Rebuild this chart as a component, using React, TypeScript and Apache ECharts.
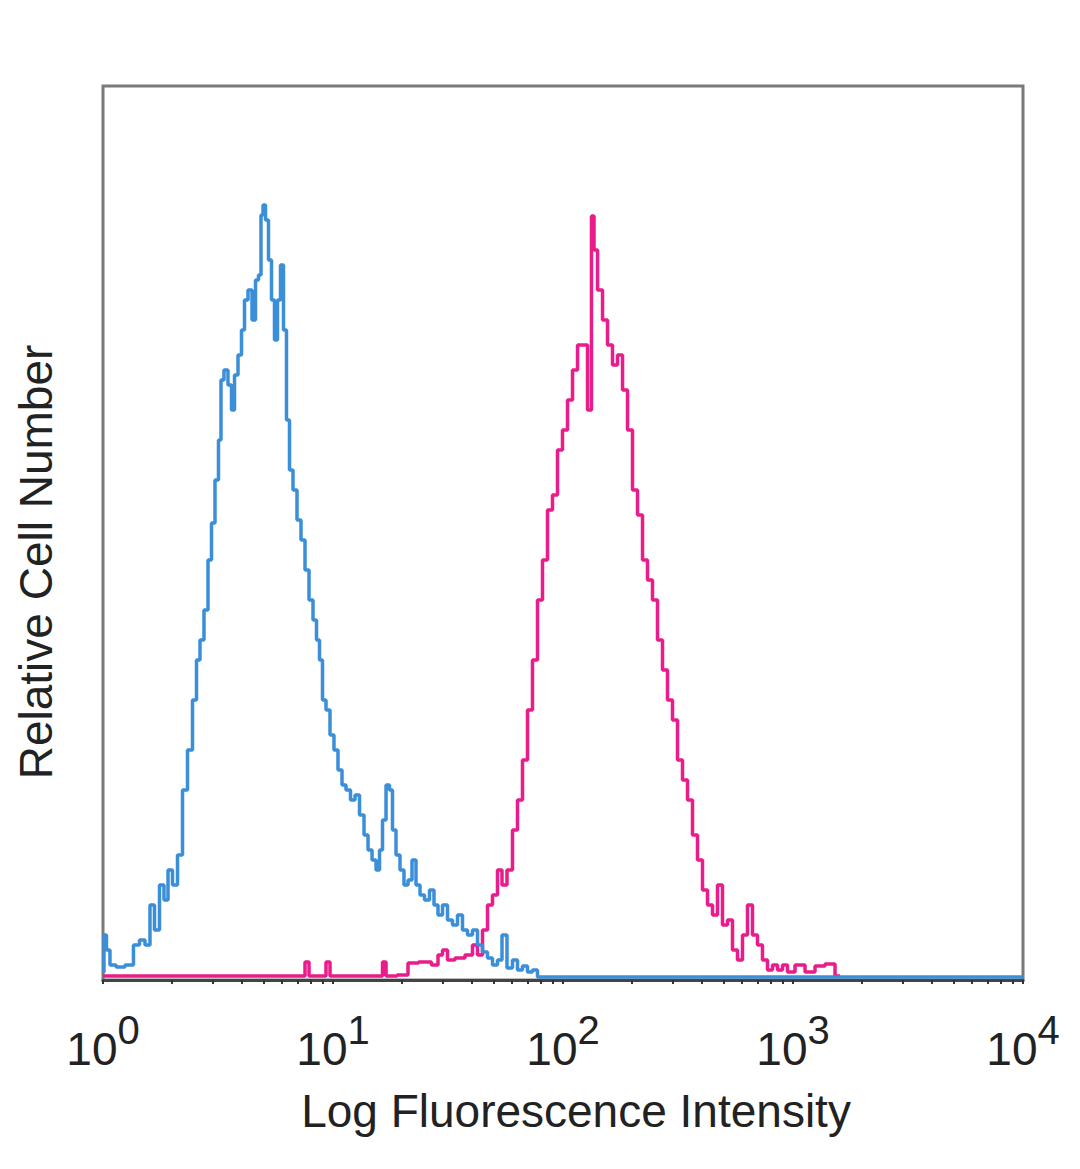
import React, { useEffect, useRef } from "react";
import * as echarts from "echarts";

// Fluorescence intensity (x) vs relative cell count (y)
const isotypeHistogram: [number, number][] = [
  [1, 4], [1.02, 22.5], [1.051, 15], [1.094, 7.5], [1.186, 6.5], [1.31, 7.5], [1.405, 17.5],
  [1.478, 20], [1.569, 17.5], [1.633, 37.5], [1.717, 25], [1.805, 47.5], [1.879, 40],
  [1.956, 55], [2.056, 47.5], [2.162, 62.5], [2.273, 95], [2.389, 115], [2.512, 140],
  [2.588, 160], [2.694, 170], [2.804, 185], [2.919, 210], [3.008, 228.5], [3.13, 250],
  [3.226, 270], [3.291, 300], [3.425, 305], [3.565, 297.5], [3.675, 285], [3.787, 302.5],
  [3.941, 312.5], [4.062, 325], [4.185, 340], [4.357, 345], [4.535, 330], [4.673, 350],
  [4.815, 352.5], [4.913, 382.5], [5.012, 387.5], [5.164, 380], [5.322, 360], [5.484, 340],
  [5.651, 320], [5.824, 340], [6.001, 357.5], [6.184, 325], [6.372, 280], [6.567, 255],
  [6.836, 245], [7.115, 230], [7.406, 220], [7.709, 205], [8.024, 190], [8.351, 180],
  [8.606, 170], [8.868, 160], [9.139, 140], [9.512, 135], [9.901, 122.5], [10.3, 115],
  [10.73, 105], [11.16, 97.5], [11.62, 95], [12.22, 90], [12.72, 92.5], [13.37, 82.5],
  [13.92, 72.5], [14.49, 65], [15.08, 60], [15.7, 55], [16.17, 65], [16.67, 80],
  [17.35, 97.5], [17.87, 95], [18.42, 75], [19.17, 62.5], [19.95, 55], [20.77, 47.5],
  [21.62, 50], [22.5, 60], [23.42, 47.5], [24.38, 42.5], [25.63, 40], [26.94, 45],
  [28.04, 37.5], [29.19, 32.5], [30.69, 37.5], [32.26, 30], [33.92, 27.5], [35.66, 32.5],
  [37.49, 25], [39.41, 22.5], [41.44, 25], [43.57, 17.5], [45.8, 14], [48.15, 11],
  [50.62, 7.5], [53.22, 10], [55.39, 22.5], [58.82, 6], [61.84, 10], [65.01, 5],
  [68.35, 7], [71.86, 4], [75.54, 5], [79.43, 1.5], [10000, 1.5],
];

const stainedHistogram: [number, number][] = [
  [1, 2], [7.406, 2], [7.709, 9], [8.024, 2], [9.139, 2], [9.512, 9], [9.901, 2],
  [16.17, 2], [16.67, 9], [17.35, 2], [20.77, 2.5], [21.62, 8.5], [25.63, 9], [28.04, 7.5],
  [29.19, 12.5], [30.69, 15], [32.26, 10], [35.66, 11], [39.41, 12.5], [41.44, 17.5],
  [43.57, 12.5], [45.8, 25], [48.15, 37.5], [50.62, 42.5], [53.22, 55], [55.39, 47.5],
  [58.82, 55], [61.84, 75], [65.01, 90], [68.35, 110], [71.86, 135], [75.54, 160],
  [79.43, 190], [83.51, 210], [87.79, 235], [92.3, 242.5], [97.04, 265], [102, 275],
  [107.3, 290], [112.8, 305], [118.6, 317.5], [124.7, 317.5], [131, 285], [135, 382],
  [137.8, 365], [144.9, 345], [152.3, 330], [160.1, 317.5], [168.3, 307.5], [177, 312.5],
  [186.1, 295], [195.6, 275], [205.6, 245], [216.2, 232.5], [227.3, 210], [238.9, 200],
  [251.2, 190], [264.1, 170], [277.6, 155], [291.9, 140], [306.9, 130], [322.6, 110],
  [339.2, 100], [356.6, 90], [374.9, 72.5], [394.1, 60], [414.4, 45], [435.7, 37.5],
  [458, 32.5], [481.5, 47.5], [506.2, 27.5], [532.2, 30], [559.5, 15], [588.2, 10],
  [618.4, 22.5], [650.1, 37.5], [683.5, 22.5], [718.6, 17.5], [755.4, 10], [794.3, 5],
  [835.1, 7.5], [877.9, 5], [923, 7.5], [970.4, 4], [1073, 7.5], [1186, 4], [1310, 7],
  [1449, 8], [1601, 2],
];

const decadeLabels = [1, 10, 100, 1000, 10000];
const xTitle = "Log Fluorescence Intensity";
const yTitle = "Relative Cell Number";

export default function App() {
  const ref = useRef<HTMLDivElement>(null);

  useEffect(() => {
    if (!ref.current) return;
    const chart = echarts.init(ref.current, undefined, { renderer: "svg" });

    const minorTicks: number[] = [];
    for (let p = 0; p < 4; p++) {
      for (let k = 1; k < 10; k++) minorTicks.push(k * Math.pow(10, p));
    }
    minorTicks.push(10000);

    const font = "'Liberation Sans', Arial, sans-serif";

    chart.setOption({
      animation: false,
      backgroundColor: "#ffffff",
      grid: {
        left: 103,
        right: 57,
        top: 86,
        bottom: 189,
        show: true,
        borderColor: "#7a7a7a",
        borderWidth: 3,
        backgroundColor: "transparent",
      },
      xAxis: {
        type: "log",
        logBase: 10,
        min: 1,
        max: 10000,
        splitLine: { show: false },
        axisLine: { show: true, lineStyle: { color: "#444444", width: 3 } },
        axisTick: {
          show: true,
          customValues: minorTicks,
          length: 4,
          lineStyle: { color: "#333333", width: 2 },
        },
        minorTick: { show: false },
        axisLabel: {
          show: true,
          customValues: decadeLabels,
          margin: 46,
          fontFamily: font,
          color: "#222222",
          formatter: (v: number) => `{a|10}{b|${Math.round(Math.log10(v))}}`,
          rich: {
            a: { fontSize: 46, fontFamily: font, color: "#222222", verticalAlign: "bottom", lineHeight: 46 },
            b: {
              fontSize: 40,
              fontFamily: font,
              color: "#222222",
              verticalAlign: "bottom",
              lineHeight: 40,
              padding: [0, 0, 22, 0],
            },
          },
        },
      },
      yAxis: {
        type: "value",
        min: 0,
        max: 447,
        show: true,
        axisLine: { show: false },
        axisTick: { show: false },
        axisLabel: { show: false },
        splitLine: { show: false },
      },
      graphic: [
        {
          type: "text",
          x: 576,
          y: 1111,
          style: {
            text: xTitle,
            font: `46px ${font}`,
            fill: "#222222",
            textAlign: "center",
            textVerticalAlign: "middle",
          },
        },
        {
          type: "text",
          x: 36,
          y: 562,
          rotation: Math.PI / 2,
          style: {
            text: yTitle,
            font: `46px ${font}`,
            fill: "#222222",
            textAlign: "center",
            textVerticalAlign: "middle",
          },
        },
      ],
      series: [
        {
          type: "line",
          data: stainedHistogram,
          step: "middle",
          showSymbol: false,
          symbol: "none",
          lineStyle: { color: "#ea1b8b", width: 3.5 },
          z: 2,
        },
        {
          type: "line",
          data: isotypeHistogram,
          step: "middle",
          showSymbol: false,
          symbol: "none",
          lineStyle: { color: "#3b8fd8", width: 3.5 },
          z: 3,
        },
      ],
    });

    return () => chart.dispose();
  }, []);

  return <div ref={ref} style={{ width: 1080, height: 1169, margin: -8 }} />;
}
